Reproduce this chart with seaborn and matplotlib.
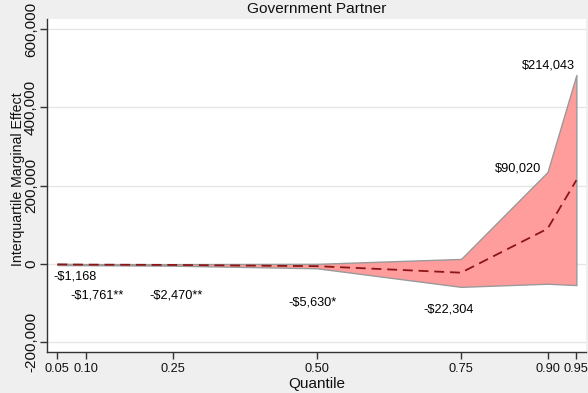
import matplotlib
matplotlib.use("Agg")
import matplotlib.pyplot as plt
import seaborn as sns
import pandas as pd
from matplotlib.ticker import FuncFormatter

# ---- data ----
quantiles = [0.05, 0.10, 0.25, 0.50, 0.75, 0.90, 0.95]
effect = [-1168, -1761, -2470, -5630, -22304, 90020, 214043]
ci_low = [-2800, -3100, -4400, -11000, -58500, -50500, -54000]
ci_high = [500, -400, -500, 300, 12800, 235000, 483000]
point_labels = ['-$1,168', '-$1,761**', '-$2,470**', '-$5,630*', '-$22,304', '$90,020', '$214,043']
x_ticks = [0.05, 0.10, 0.25, 0.50, 0.75, 0.90, 0.95]
x_ticklabels = ['0.05', '0.10', '0.25', '0.50', '0.75', '0.90', '0.95']
y_ticks = [-200000, 0, 200000, 400000, 600000]

# ---- layout (label placement) ----
label_dx = [0.0297, 0.0195, 0.0057, -0.007, -0.021, -0.052, -0.049]
label_y = [-33000, -81800, -81800, -99000, -115900, 242800, 506000]

sns.set_theme(style="white")
plt.rcParams['font.family'] = ['Liberation Sans', 'DejaVu Sans']

df = pd.DataFrame({'q': quantiles, 'effect': effect, 'lo': ci_low, 'hi': ci_high})

fig = plt.figure(figsize=(5.88, 3.93), dpi=100, facecolor='#efefef')
ax = fig.add_axes([47/588, (393-352)/393, (586-47)/588, (352-19)/393])
ax.set_facecolor('white')

for yt in y_ticks:
    ax.axhline(yt, color='#e6e6e6', lw=1.0, zorder=0)

ax.fill_between(df['q'], df['lo'], df['hi'], facecolor='#ff9c9c', edgecolor='#9a9a9a', lw=1.0, zorder=1)
sns.lineplot(data=df, x='q', y='effect', ax=ax, color='#8c1616', lw=1.3,
             linestyle=(0, (5.5, 3.2)), zorder=3)

for q, lab, dx, ly in zip(quantiles, point_labels, label_dx, label_y):
    ax.text(q + dx, ly, lab, ha='center', va='center', fontsize=9.2, color='black', zorder=4)

ax.set_xlim(0.032, 0.9667)
ax.set_ylim(-225000, 626000)
ax.set_xticks(x_ticks)
ax.set_xticklabels(x_ticklabels)
ax.set_yticks(y_ticks)
ax.yaxis.set_major_formatter(FuncFormatter(lambda v, p: f"{int(v):,}"))
for t in ax.get_yticklabels():
    t.set_rotation(90)
    t.set_va('center')
ax.tick_params(axis='y', labelsize=11, length=5, width=1, color='#333333', pad=1.5, left=True, labelcolor='#111111')
ax.tick_params(axis='x', labelsize=9.2, length=5, width=1, color='#333333', pad=3, bottom=True, labelcolor='#111111')

for side in ['top', 'right']:
    ax.spines[side].set_visible(False)
for side in ['left', 'bottom']:
    ax.spines[side].set_color('#333333')
    ax.spines[side].set_linewidth(1.0)

ax.set_xlabel('Quantile', fontsize=11, color='#111111')
ax.set_ylabel('Interquartile Marginal Effect', fontsize=10.2, color='#111111')
ax.yaxis.set_label_coords(-0.040, 0.52)
ax.xaxis.set_label_coords(0.5, -0.074)
fig.text((47+586)/2/588, 1 - 9/393, 'Government Partner', ha='center', va='center', fontsize=11.1, color='#111111')

fig.savefig('out.png', dpi=100, facecolor=fig.get_facecolor())
